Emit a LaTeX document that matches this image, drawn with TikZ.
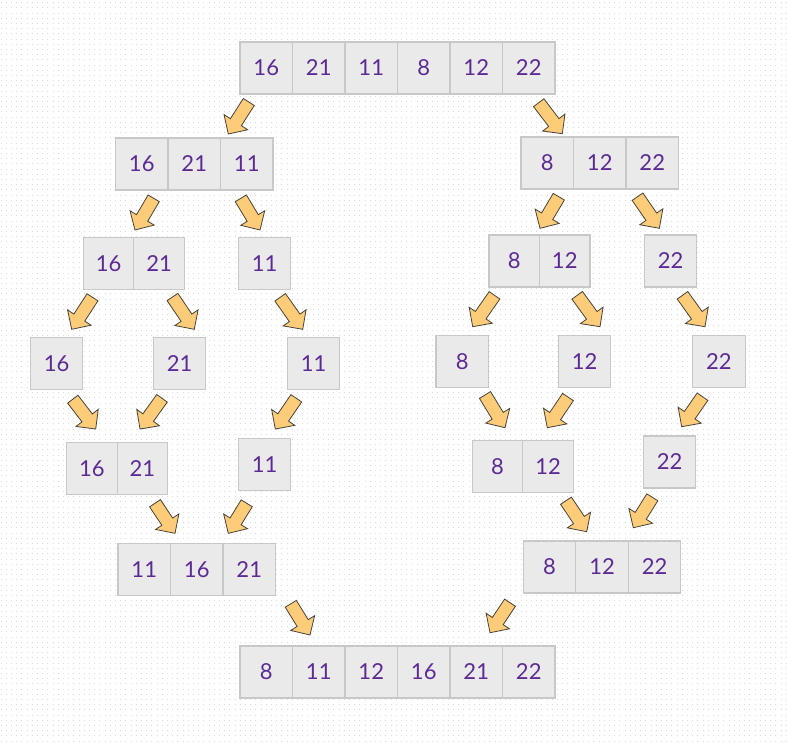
\documentclass[tikz,border=0pt]{standalone}
\usepackage{fontspec}
\setmainfont{Lato}
\usepackage{tikz}
\usetikzlibrary{positioning,calc}
\definecolor{msCell}   {RGB}{234, 234, 234}
\definecolor{msEdge}   {RGB}{200, 200, 200}
\definecolor{msInk}    {RGB}{ 92,  42, 148}
\definecolor{msArrow}  {RGB}{253, 204, 120}
\definecolor{msOutline}{RGB}{ 70,  66,  60}
\definecolor{msDot}    {RGB}{220, 220, 220}

% block arrow from a tail point to a tip point
\newcommand\mergeflow[2]{%
  \coordinate (ft) at #1;
  \coordinate (fh) at #2;
  \coordinate (fb) at ($(fh)!14pt!(ft)$);
  \draw[flow] ($(ft)!6.5pt!90:(fh)$) -- ($(fb)!6.5pt!90:(fh)$) -- ($(fb)!14pt!90:(fh)$)
    -- (fh) -- ($(fb)!14pt!-90:(fh)$) -- ($(fb)!6.5pt!-90:(fh)$) -- ($(ft)!6.5pt!-90:(fh)$) -- cycle;
}

\begin{document}
\begin{tikzpicture}[
  x=1pt, y=1pt,
  cell/.style={draw=msEdge, line width=1.3pt, fill=msCell, minimum width=52.5pt,
    minimum height=52pt, inner sep=0pt, outer sep=0pt, anchor=north west, text=msInk,
    font=\fontsize{22}{23}\selectfont},
  pair/.style={cell, minimum width=50.5pt},
  flow/.style={draw=msOutline, line width=0.8pt, fill=msArrow},
]
  % dotted paper
  \useasboundingbox (0,0) rectangle (787,-742);
  \fill[white] (0,0) rectangle (787,-742);
  \foreach \y in {2.6,7.8,...,742}
    \draw[msDot, line width=1pt, dash pattern=on 1pt off 4.2pt] (0.5,-\y) -- (787,-\y);

  % Level 0 -- input
  \node[cell] (top1) at (240,-42) {16};
  \node[cell, right=0pt of top1] (top2) {21};
  \node[cell, right=0pt of top2] (top3) {11};
  \node[cell, right=0pt of top3] (top4) {8};
  \node[cell, right=0pt of top4] (top5) {12};
  \node[cell, right=0pt of top5] (top6) {22};

  % Level 1
  \node[cell] (la1) at (115.5,-138) {16};
  \node[cell, right=0pt of la1] (la2) {21};
  \node[cell, right=0pt of la2] (la3) {11};
  \node[cell] (ra1) at (521,-137) {8};
  \node[cell, right=0pt of ra1] (ra2) {12};
  \node[cell, right=0pt of ra2] (ra3) {22};

  % Level 2
  \node[pair] (lb1) at (83.3,-237.3) {16};
  \node[pair, right=0pt of lb1] (lb2) {21};
  \node[cell] (lb3) at (238.3,-237.3) {11};
  \node[pair] (rb1) at (489,-235) {8};
  \node[pair, right=0pt of rb1] (rb2) {12};
  \node[cell] (rb3) at (644.3,-235) {22};

  % Level 3 -- single elements
  \node[cell] (lc1) at (30.3,-337.7) {16};
  \node[cell] (lc2) at (153.3,-337.7) {21};
  \node[cell] (lc3) at (287.3,-337.7) {11};
  \node[cell] (rc1) at (436,-335.7) {8};
  \node[cell] (rc2) at (558.3,-335.7) {12};
  \node[cell] (rc3) at (692.7,-335.7) {22};

  % Level 4 -- first merge
  \node[pair] (ld1) at (66.7,-442.3) {16};
  \node[pair, right=0pt of ld1] (ld2) {21};
  \node[cell] (ld3) at (238.3,-438.3) {11};
  \node[pair] (rd1) at (472.3,-440.3) {8};
  \node[pair, right=0pt of rd1] (rd2) {12};
  \node[cell] (rd3) at (643.3,-436) {22};

  % Level 5
  \node[cell] (le1) at (118,-543.3) {11};
  \node[cell, right=0pt of le1] (le2) {16};
  \node[cell, right=0pt of le2] (le3) {21};
  \node[cell] (re1) at (523.3,-541) {8};
  \node[cell, right=0pt of re1] (re2) {12};
  \node[cell, right=0pt of re2] (re3) {22};

  % Level 6 -- sorted
  \node[cell] (bot1) at (240,-646) {8};
  \node[cell, right=0pt of bot1] (bot2) {11};
  \node[cell, right=0pt of bot2] (bot3) {12};
  \node[cell, right=0pt of bot3] (bot4) {16};
  \node[cell, right=0pt of bot4] (bot5) {21};
  \node[cell, right=0pt of bot5] (bot6) {22};

  % Split arrows
  \mergeflow{(248.8,-102)}{(228.3,-134)}
  \mergeflow{(538.7,-102.7)}{(562.3,-133.7)}
  \mergeflow{(153.7,-198.3)}{(135,-230)}
  \mergeflow{(240.8,-198.3)}{(260,-230)}
  \mergeflow{(558.8,-196.7)}{(540,-228.3)}
  \mergeflow{(637.5,-196.7)}{(659.3,-228.3)}
  \mergeflow{(92.5,-297.3)}{(71.7,-329.3)}
  \mergeflow{(172.5,-297)}{(194.3,-329.3)}
  \mergeflow{(280.2,-297.3)}{(302.7,-329.3)}
  \mergeflow{(494.5,-295.3)}{(472.7,-326.7)}
  \mergeflow{(577.2,-295.3)}{(600,-326.7)}
  \mergeflow{(682.5,-295.3)}{(705,-326.7)}

  % Merge arrows
  \mergeflow{(72.8,-399.2)}{(95.7,-429)}
  \mergeflow{(162,-398.3)}{(140,-429)}
  \mergeflow{(296.3,-398.3)}{(275.3,-429)}
  \mergeflow{(485,-395)}{(505,-427.7)}
  \mergeflow{(568,-397)}{(547.3,-427.7)}
  \mergeflow{(702.5,-396.7)}{(681.7,-426.7)}
  \mergeflow{(155,-503.3)}{(175,-533.3)}
  \mergeflow{(246.7,-503.3)}{(228.3,-533.3)}
  \mergeflow{(566,-500.7)}{(586.7,-531.7)}
  \mergeflow{(652.3,-497.3)}{(633.3,-527.7)}
  \mergeflow{(290.8,-603.8)}{(310,-635)}
  \mergeflow{(510,-602.7)}{(490,-632.7)}
\end{tikzpicture}
\end{document}
